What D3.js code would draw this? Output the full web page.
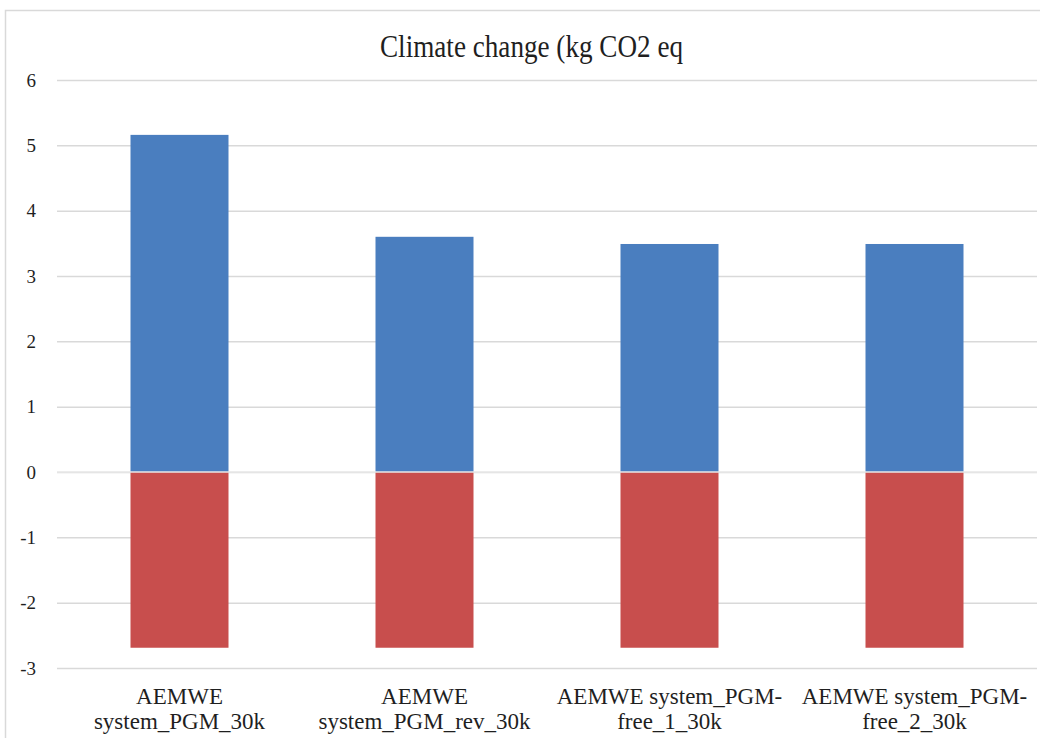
<!DOCTYPE html>
<html>
<head>
<meta charset="utf-8">
<script src="https://cdn.jsdelivr.net/npm/d3@7"></script>
<style>
  html, body { margin: 0; padding: 0; background: #ffffff; }
  svg { display: block; }
</style>
</head>
<body>
<svg id="chart" width="1040" height="738"></svg>
<script>
// Categories (each label split into its two display lines)
const categories = [
  "AEMWE system_PGM_30k",
  "AEMWE system_PGM_rev_30k",
  "AEMWE system_PGM-free_1_30k",
  "AEMWE system_PGM-free_2_30k"
];
const categoryLines = [
  ["AEMWE", "system_PGM_30k"],
  ["AEMWE", "system_PGM_rev_30k"],
  ["AEMWE system_PGM-", "free_1_30k"],
  ["AEMWE system_PGM-", "free_2_30k"]
];
// Burdens (positive) and credits (negative), kg CO2 eq
const positiveValues = [5.16, 3.60, 3.49, 3.49];
const negativeValues = [-2.69, -2.69, -2.69, -2.69];
const yTicks = [-3, -2, -1, 0, 1, 2, 3, 4, 5, 6];
const titleText = "Climate change (kg CO2 eq";

const serifFont = "'Liberation Serif', 'Times New Roman', 'DejaVu Serif', serif";
const textColor = "#1f1f1f";

const svg = d3.select("#chart");
const plotLeft = 57, plotRight = 1037, plotTop = 80, plotBottom = 668;

// Outer chart frame
svg.append("rect")
  .attr("x", 5.5).attr("y", 10.5)
  .attr("width", 1060).attr("height", 760)
  .attr("fill", "none")
  .attr("stroke", "#d9d9d9")
  .attr("stroke-width", 1.5);

const y = d3.scaleLinear().domain([-3, 6]).range([plotBottom, plotTop]);
const x = d3.scaleBand().domain(categories).range([plotLeft, plotRight])
  .paddingInner(0.6).paddingOuter(0.3);

// Value axis with horizontal gridlines
const yAxis = svg.append("g")
  .attr("transform", `translate(${plotLeft},0)`)
  .call(d3.axisLeft(y).tickValues(yTicks).tickFormat(d => String(d))
    .tickSize(-(plotRight - plotLeft)).tickPadding(21));
yAxis.attr("font-family", null).attr("font-size", null);
yAxis.select(".domain").remove();
yAxis.selectAll(".tick line").attr("stroke", "#d9d9d9").attr("stroke-width", 1.5);
yAxis.selectAll(".tick text")
  .style("font-family", serifFont)
  .style("font-size", "19px")
  .attr("fill", textColor);

// Positive stack segment
svg.append("g").selectAll("rect")
  .data(positiveValues)
  .join("rect")
  .attr("x", (d, i) => x(categories[i]))
  .attr("width", x.bandwidth())
  .attr("y", d => y(d))
  .attr("height", d => y(0) - y(d))
  .attr("fill", "#4a7ebf");

// Negative stack segment
svg.append("g").selectAll("rect")
  .data(negativeValues)
  .join("rect")
  .attr("x", (d, i) => x(categories[i]))
  .attr("width", x.bandwidth())
  .attr("y", y(0))
  .attr("height", d => y(d) - y(0))
  .attr("fill", "#c84e4d");

// Zero line across the bars
svg.append("line")
  .attr("x1", plotLeft).attr("x2", plotRight)
  .attr("y1", y(0)).attr("y2", y(0))
  .attr("stroke", "#e8e8e8").attr("stroke-width", 1.5);

// Category axis labels, two lines each
const xAxis = svg.append("g")
  .attr("transform", `translate(0,${plotBottom})`)
  .call(d3.axisBottom(x).tickSize(0).tickPadding(0));
xAxis.attr("font-family", null).attr("font-size", null);
xAxis.select(".domain").remove();
xAxis.selectAll(".tick text")
  .style("font-family", serifFont)
  .style("font-size", "23px")
  .attr("fill", textColor)
  .attr("y", 0).attr("dy", null)
  .text(null)
  .each(function(d) {
    const lines = categoryLines[categories.indexOf(d)];
    const t = d3.select(this);
    lines.forEach((ln, k) => {
      t.append("tspan").attr("x", 0).attr("y", 36 + k * 24.5).text(ln);
    });
  });

// Chart title
svg.append("text")
  .attr("x", 531.5).attr("y", 57)
  .attr("text-anchor", "middle")
  .style("font-family", serifFont)
  .style("font-size", "31px")
  .attr("fill", textColor)
  .attr("textLength", 303)
  .attr("lengthAdjust", "spacingAndGlyphs")
  .text(titleText);
</script>
</body>
</html>
